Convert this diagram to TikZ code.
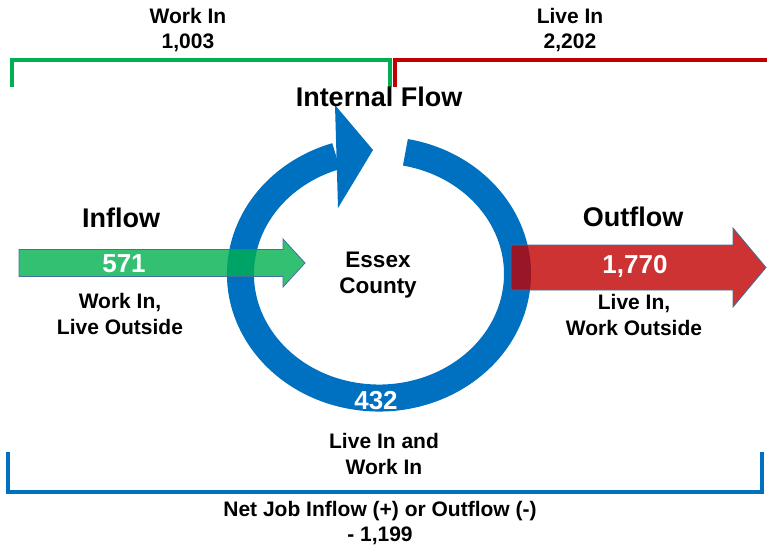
\documentclass[tikz,border=0pt]{standalone}
\usepackage{fontspec}
\setmainfont{Liberation Sans}
\definecolor{ringblue}{RGB}{0,112,192}
\definecolor{ingreen}{RGB}{0,176,80}
\definecolor{outred}{RGB}{192,0,0}
\definecolor{edgeblue}{RGB}{65,113,156}
\definecolor{bracketgreen}{RGB}{0,176,80}
\definecolor{bracketred}{RGB}{192,0,0}
\tikzset{
  lab/.style={inner sep=0pt, align=center, font=\fontsize{21}{25.5}\selectfont\bfseries},
  big/.style={inner sep=0pt, font=\fontsize{27}{30}\selectfont\bfseries},
  mid/.style={inner sep=0pt, align=center, font=\fontsize{22.5}{26}\selectfont\bfseries},
  num/.style={inner sep=0pt, text=white, font=\fontsize{26}{30}\selectfont\bfseries},
  flowarrow/.style={draw=edgeblue, line width=0.8pt, fill opacity=0.8},
  bracket/.style={line width=3.3pt},
}
\begin{document}
\begin{tikzpicture}[x=1pt,y=1pt]
\useasboundingbox (0,0) rectangle (767,550);
% ring
\draw[ringblue, line width=27pt] (405.4,397.7) arc[start angle=79, end angle=-252, x radius=138.5, y radius=124];
\fill[ringblue] (335,445) -- (373,400) -- (338,342) -- cycle;
% inflow arrow
\filldraw[flowarrow, fill=ingreen] (19,273.5) -- (283,273.5) -- (283,263) -- (305,287) -- (283,311) -- (283,300.5) -- (19,300.5) -- cycle;
% outflow arrow
\filldraw[flowarrow, fill=outred] (511,260) -- (733,260) -- (733,243) -- (766,282.5) -- (733,322) -- (733,305) -- (511,305) -- cycle;
% brackets
\draw[bracket, bracketgreen] (12,463) -- (12,490) -- (390,490) -- (390,463);
\draw[bracket, bracketred] (395,463) -- (395,490) -- (767,490);
\draw[line width=4pt, ringblue] (8,98) -- (8,58) -- (762,58) -- (762,98);
% texts
\node[lab] (workin) at (188,520) {Work In\\1,003};
\node[lab] (livein) at (570,520) {Live In\\2,202};
\node[big] (internal) at (379,453) {Internal Flow};
\node[big] (inflow) at (121,332) {Inflow};
\node[big] (outflow) at (633,333) {Outflow};
\node[num] (n571) at (124,286) {571};
\node[num] (n1770) at (635,284) {1,770};
\node[lab] (wilo) at (120,236) {Work In,\\Live Outside};
\node[lab] (liwo) at (634,235) {Live In,\\Work Outside};
\node[mid] (essex) at (378,275) {Essex\\County};
\node[num] (n432) at (376,149) {432};
\node[lab] (liwi) at (384,96) {Live In and\\Work In};
\node[lab] (net) at (380,27) {Net Job Inflow (+) or Outflow (-)\\- 1,199};
\end{tikzpicture}
\end{document}
